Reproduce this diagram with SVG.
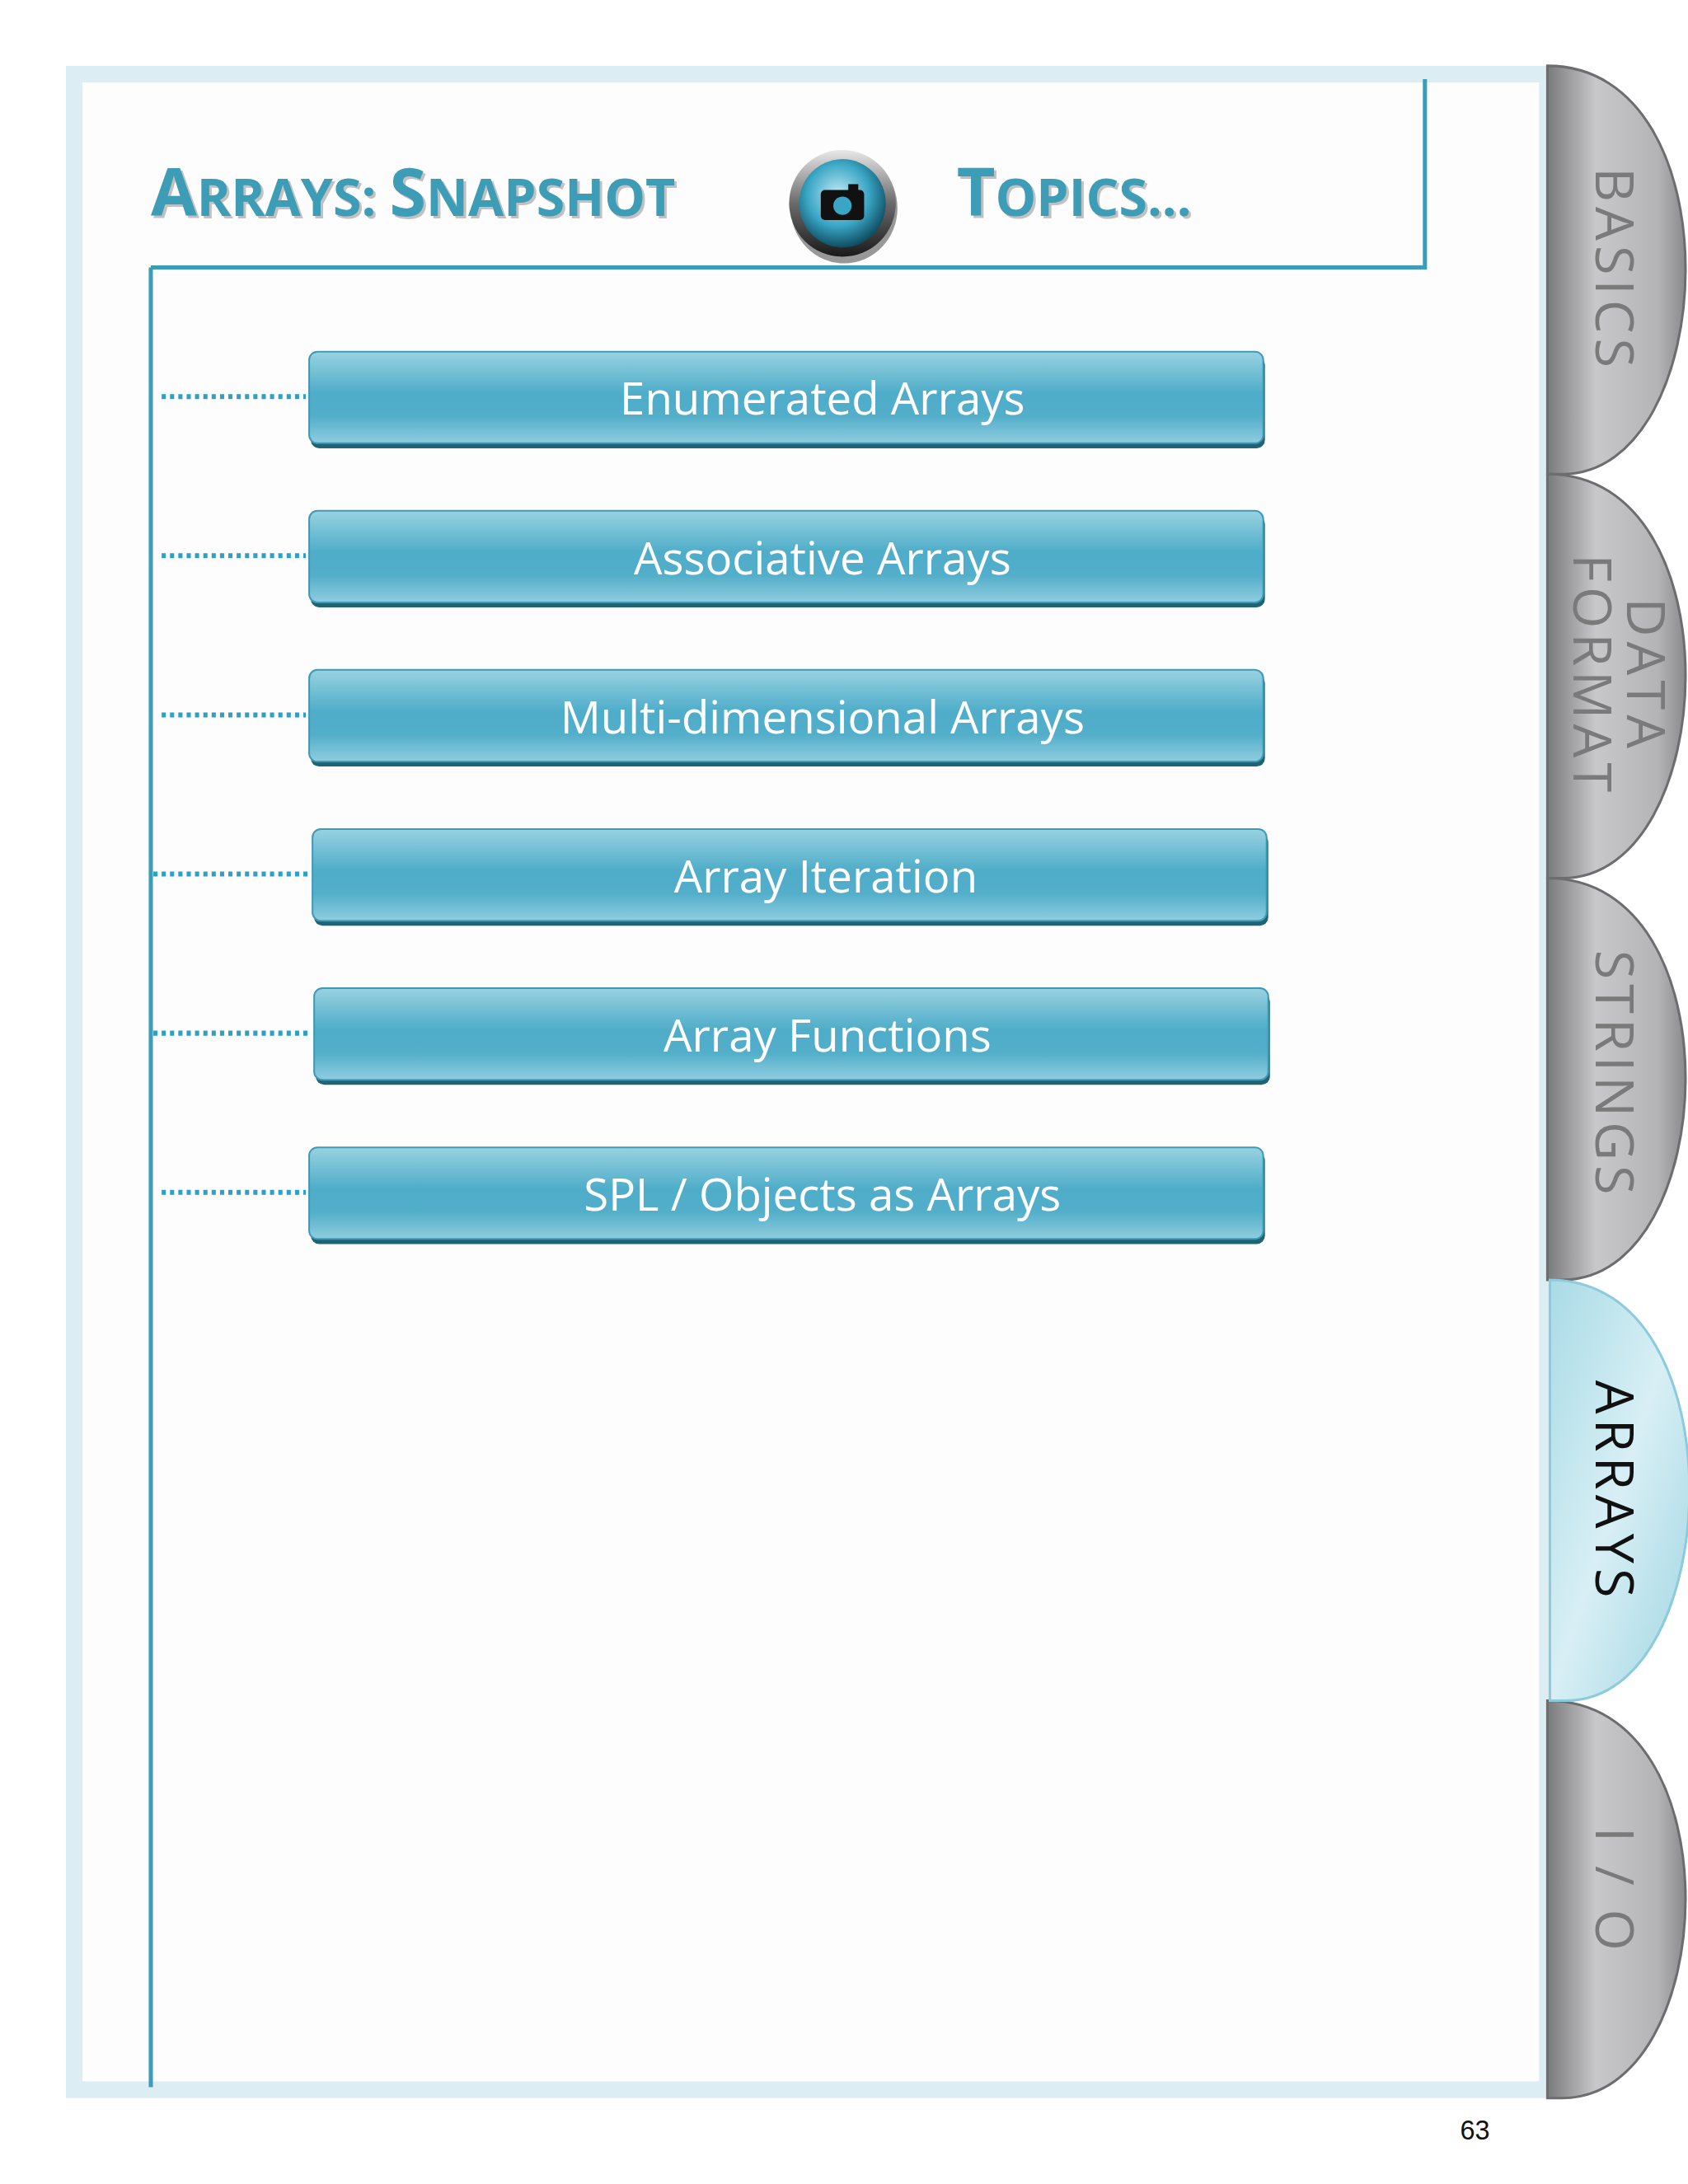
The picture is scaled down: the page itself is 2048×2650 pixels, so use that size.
<svg xmlns="http://www.w3.org/2000/svg" width="2048" height="2650" viewBox="0 0 2048 2650">
<defs>
<linearGradient id="bx" x1="0" y1="0" x2="0" y2="1">
<stop offset="0" stop-color="#98d2e1"/><stop offset="0.45" stop-color="#4fadc9"/><stop offset="0.7" stop-color="#52aec9"/><stop offset="1" stop-color="#8fcde0"/>
</linearGradient>
<linearGradient id="gt" x1="0" y1="0" x2="1" y2="0">
<stop offset="0" stop-color="#7a7a7c"/><stop offset="0.35" stop-color="#c8c8ca"/><stop offset="0.8" stop-color="#b4b4b6"/><stop offset="1" stop-color="#8a8a8c"/>
</linearGradient>
<linearGradient id="bt" x1="0" y1="0" x2="1" y2="1">
<stop offset="0" stop-color="#a9dbe6"/><stop offset="0.5" stop-color="#d8eff5"/><stop offset="1" stop-color="#9fd5e2"/>
</linearGradient>
<radialGradient id="cam" cx="0.45" cy="0.4" r="0.6">
<stop offset="0" stop-color="#bfeaf5"/><stop offset="0.6" stop-color="#3aa5c4"/><stop offset="1" stop-color="#0f4f63"/>
</radialGradient>
<linearGradient id="rim" x1="0" y1="0" x2="0" y2="1">
<stop offset="0" stop-color="#e8e8e8"/><stop offset="0.5" stop-color="#6a6a6a"/><stop offset="1" stop-color="#1a1a1a"/>
</linearGradient>
</defs>
<style>
.lbl{font-family:"Open Sans","Liberation Sans",sans-serif;font-size:54px;fill:#ffffff;text-anchor:middle}
.dot{stroke:#2f9fc4;stroke-width:6;stroke-dasharray:5 5;fill:none}
.ttl{font-family:"Open Sans","Liberation Sans",sans-serif;font-weight:bold;fill:#3d9cb6}
.tab{font-family:"Open Sans","Liberation Sans",sans-serif;font-size:64px;fill:#7a7a7a;letter-spacing:6px;text-anchor:middle}
.box{fill:url(#bx);stroke:#3f9ab5;stroke-width:2}
.sh{fill:#1f6374}
</style>
<rect width="2048" height="2650" fill="#ffffff"/>
<g transform="scale(1.011)">
<rect x="89" y="89" width="1768" height="2419" fill="#fdfdfd" stroke="#dcedf3" stroke-width="20"/>
<g id="header">
<path d="M181,321 L1710,321 L1710,95" fill="none" stroke="#3d9cb6" stroke-width="5"/>
<line x1="181" y1="321" x2="181" y2="2505" stroke="#3d9cb6" stroke-width="5"/>
<text x="184" y="262" class="ttl" style="fill:#9a9a9a" opacity="0.6"><tspan font-size="80">A</tspan><tspan font-size="62">RRAYS: </tspan><tspan font-size="80">S</tspan><tspan font-size="62">NAPSHOT</tspan></text>
<text x="181" y="259" class="ttl"><tspan font-size="80">A</tspan><tspan font-size="62">RRAYS: </tspan><tspan font-size="80">S</tspan><tspan font-size="62">NAPSHOT</tspan></text>
<text x="1151" y="262" class="ttl" style="fill:#9a9a9a" opacity="0.6"><tspan font-size="80">T</tspan><tspan font-size="62">OPICS...</tspan></text>
<text x="1148" y="259" class="ttl"><tspan font-size="80">T</tspan><tspan font-size="62">OPICS...</tspan></text>
</g>
<g id="camera">
<ellipse cx="1013" cy="250" rx="64" ry="66" fill="#333" opacity="0.5"/>
<ellipse cx="1011" cy="244" rx="64" ry="64" fill="url(#rim)"/>
<ellipse cx="1011" cy="244" rx="52" ry="53" fill="url(#cam)"/>
<rect x="985" y="228" width="52" height="36" rx="5" fill="#111"/>
<rect x="1018" y="221" width="12" height="8" fill="#111"/>
<circle cx="1011" cy="247" r="11" fill="#3aa5c4"/>
</g>
<g id="connectors">
<line class="dot" x1="194" y1="476" x2="367" y2="476"/>
<line class="dot" x1="194" y1="667" x2="367" y2="667"/>
<line class="dot" x1="194" y1="858" x2="367" y2="858"/>
<line class="dot" x1="184" y1="1049" x2="370" y2="1049"/>
<line class="dot" x1="184" y1="1240" x2="372" y2="1240"/>
<line class="dot" x1="194" y1="1431" x2="367" y2="1431"/>
</g>
<g id="n1"><rect class="sh" x="373" y="428" width="1145" height="110" rx="10"/><rect class="box" x="371" y="422" width="1145" height="110" rx="10"/><text class="lbl" x="987" y="498">Enumerated Arrays</text></g>
<g id="n2"><rect class="sh" x="373" y="619" width="1145" height="110" rx="10"/><rect class="box" x="371" y="613" width="1145" height="110" rx="10"/><text class="lbl" x="987" y="689">Associative Arrays</text></g>
<g id="n3"><rect class="sh" x="373" y="810" width="1145" height="110" rx="10"/><rect class="box" x="371" y="804" width="1145" height="110" rx="10"/><text class="lbl" x="987" y="880">Multi-dimensional Arrays</text></g>
<g id="n4"><rect class="sh" x="377" y="1001" width="1145" height="110" rx="10"/><rect class="box" x="375" y="995" width="1145" height="110" rx="10"/><text class="lbl" x="991" y="1071">Array Iteration</text></g>
<g id="n5"><rect class="sh" x="379" y="1192" width="1145" height="110" rx="10"/><rect class="box" x="377" y="1186" width="1145" height="110" rx="10"/><text class="lbl" x="993" y="1262">Array Functions</text></g>
<g id="n6"><rect class="sh" x="373" y="1383" width="1145" height="110" rx="10"/><rect class="box" x="371" y="1377" width="1145" height="110" rx="10"/><text class="lbl" x="987" y="1453">SPL / Objects as Arrays</text></g>
<g id="tab-basics"><path d="M1857,79 C2085,79 2065,569 1875,569 L1857,569 Z" fill="url(#gt)" stroke="#6d6d6f" stroke-width="3"/><text class="tab" transform="translate(1915,324) rotate(90)">BASICS</text></g>
<g id="tab-data"><path d="M1857,569 C2085,569 2065,1054 1875,1054 L1857,1054 Z" fill="url(#gt)" stroke="#6d6d6f" stroke-width="3"/><text class="tab" transform="translate(1953,811) rotate(90)">DATA</text><text class="tab" transform="translate(1888,811) rotate(90)">FORMAT</text></g>
<g id="tab-strings"><path d="M1857,1054 C2085,1054 2065,1536 1875,1536 L1857,1536 Z" fill="url(#gt)" stroke="#6d6d6f" stroke-width="3"/><text class="tab" transform="translate(1915,1290) rotate(90)">STRINGS</text></g>
<g id="tab-io"><path d="M1857,2041 C2085,2041 2065,2518 1875,2518 L1857,2518 Z" fill="url(#gt)" stroke="#6d6d6f" stroke-width="3"/><text class="tab" transform="translate(1915,2270) rotate(90)">I / O</text></g>
<g id="tab-arrays"><path d="M1860,1536 C2090,1536 2070,2041 1880,2041 L1860,2041 Z" fill="url(#bt)" stroke="#8ccbdb" stroke-width="3"/><text class="tab" style="fill:#111" transform="translate(1915,1790) rotate(90)">ARRAYS</text></g>
<text x="1770" y="2568" font-family="Liberation Sans,Arial,sans-serif" font-size="32" fill="#111" text-anchor="middle">63</text>
</g>
</svg>
